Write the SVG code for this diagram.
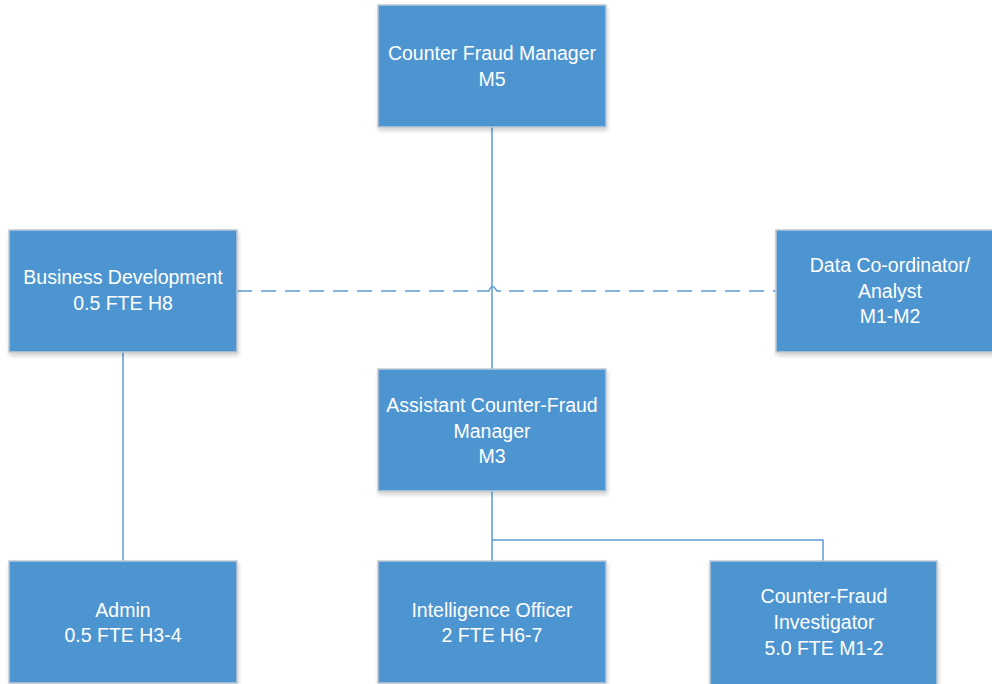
<svg xmlns="http://www.w3.org/2000/svg" width="992" height="684" viewBox="0 0 992 684">
<defs>
<filter id="sh" x="-10%" y="-10%" width="120%" height="125%">
<feGaussianBlur in="SourceAlpha" stdDeviation="2"/>
<feOffset dx="1" dy="3" result="b"/>
<feComponentTransfer><feFuncA type="linear" slope="0.18"/></feComponentTransfer>
<feMerge><feMergeNode/><feMergeNode in="SourceGraphic"/></feMerge>
</filter>
</defs>
<style>
.box{fill:#4E95D0;stroke:#BCC8D3;stroke-width:1.5;filter:url(#sh)}
.t{fill:#FFFFFF;font-family:"Liberation Sans",Arial,sans-serif;font-size:19.5px;text-anchor:middle}
.ln{fill:none;stroke:#5B9BD5;stroke-width:1.5}
.dash{stroke-dasharray:15,9}
</style>
<rect width="992" height="684" fill="#FFFFFF"/>
<g id="connectors">
<path class="ln" d="M492,127 V369"/>
<path class="ln dash" d="M237,291 H486"/>
<path class="ln" d="M486,291 H489 Q491,285 494,287 L497,291 H501"/>
<path class="ln dash" d="M509,291 H776"/>
<path class="ln" d="M123,352 V561"/>
<path class="ln" d="M492,491 V561"/>
<path class="ln" d="M492,540 H823 V561"/>
</g>
<g id="n-cfm">
<rect class="box" x="378" y="5" width="228" height="122"/>
<text class="t" x="492" y="60">Counter Fraud Manager</text>
<text class="t" x="492" y="86">M5</text>
</g>
<g id="n-bd">
<rect class="box" x="9" y="230" width="228" height="122"/>
<text class="t" x="123" y="284">Business Development</text>
<text class="t" x="123" y="310">0.5 FTE H8</text>
</g>
<g id="n-data">
<rect class="box" x="776" y="230" width="228" height="122"/>
<text class="t" x="890" y="272">Data Co-ordinator/</text>
<text class="t" x="890" y="298">Analyst</text>
<text class="t" x="890" y="323">M1-M2</text>
</g>
<g id="n-acfm">
<rect class="box" x="378" y="369" width="228" height="122"/>
<text class="t" x="492" y="412">Assistant Counter-Fraud</text>
<text class="t" x="492" y="438">Manager</text>
<text class="t" x="492" y="463">M3</text>
</g>
<g id="n-admin">
<rect class="box" x="9" y="561" width="228" height="122"/>
<text class="t" x="123" y="617">Admin</text>
<text class="t" x="123" y="642">0.5 FTE H3-4</text>
</g>
<g id="n-io">
<rect class="box" x="378" y="561" width="228" height="122"/>
<text class="t" x="492" y="617">Intelligence Officer</text>
<text class="t" x="492" y="642">2 FTE H6-7</text>
</g>
<g id="n-cfi">
<rect class="box" x="710" y="561" width="227" height="124"/>
<text class="t" x="824" y="603">Counter-Fraud</text>
<text class="t" x="824" y="629">Investigator</text>
<text class="t" x="824" y="655">5.0 FTE M1-2</text>
</g>
</svg>
